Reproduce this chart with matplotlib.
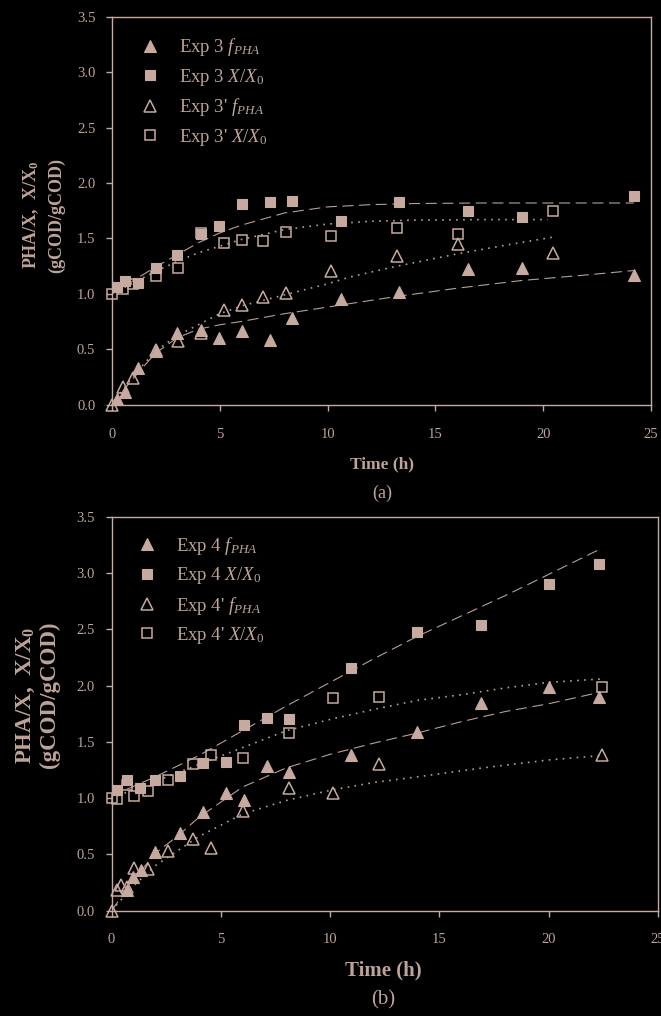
import matplotlib
matplotlib.use("Agg")
import matplotlib.pyplot as plt
from matplotlib.ticker import FormatStrFormatter

plt.rcParams["font.family"] = "Liberation Serif"
plt.rcParams["mathtext.fontset"] = "custom"
plt.rcParams["mathtext.rm"] = "Liberation Serif"
plt.rcParams["mathtext.it"] = "Liberation Serif:italic"
plt.rcParams["mathtext.bf"] = "Liberation Serif:bold"

INK = "#c6aa9f"
TXT = "#bea398"
LINE = "#b89f95"
BG = "black"

# ---------------- Panel (a): experiments 3 and 3' ----------------
t_exp3 = [0.22, 0.60, 1.19, 2.03, 3.0, 4.14, 4.98, 6.03, 7.33, 8.35, 10.6, 13.3, 16.5, 19.0, 24.2]
x_exp3 = [1.06, 1.12, 1.10, 1.23, 1.35, 1.54, 1.61, 1.81, 1.83, 1.84, 1.66, 1.83, 1.75, 1.69, 1.88]
f_exp3 = [0.05, 0.11, 0.33, 0.48, 0.65, 0.67, 0.60, 0.66, 0.58, 0.78, 0.95, 1.02, 1.22, 1.23, 1.17]

t_exp3p = [0.0, 0.50, 0.96, 2.03, 3.05, 4.14, 5.19, 6.03, 7.02, 8.07, 10.14, 13.2, 16.03, 20.44]
x_exp3p = [1.00, 1.04, 1.09, 1.16, 1.23, 1.55, 1.46, 1.49, 1.48, 1.56, 1.52, 1.59, 1.54, 1.75]
f_exp3p = [0.00, 0.16, 0.24, 0.49, 0.57, 0.645, 0.85, 0.90, 0.97, 1.01, 1.21, 1.34, 1.45, 1.37]

# model curves
fit3_x_t = [0, 1, 2, 3, 4, 5, 6, 8, 10, 12, 14, 17, 20, 24.2]
fit3_x_v = [1.00, 1.12, 1.24, 1.35, 1.46, 1.55, 1.62, 1.73, 1.785, 1.805, 1.815, 1.82, 1.82, 1.82]
fit3p_x_t = [0, 1, 2, 3, 4, 5, 6, 8, 10, 12, 14, 17, 20.2]
fit3p_x_v = [1.00, 1.10, 1.20, 1.29, 1.37, 1.43, 1.49, 1.58, 1.63, 1.655, 1.665, 1.67, 1.67]
fit3_f_t = [0, 0.5, 1, 2, 3, 4, 5, 6, 8, 10, 13, 16, 19, 22, 24.2]
fit3_f_v = [0.00, 0.12, 0.24, 0.46, 0.60, 0.68, 0.72, 0.75, 0.82, 0.88, 0.97, 1.05, 1.12, 1.17, 1.21]
fit3p_f_t = [0, 1, 2, 3, 4, 5, 6, 8, 10, 11, 13, 16, 18, 20.4]
fit3p_f_v = [0.00, 0.26, 0.48, 0.62, 0.72, 0.82, 0.89, 0.99, 1.09, 1.15, 1.24, 1.36, 1.43, 1.51]

# ---------------- Panel (b): experiments 4 and 4' ----------------
t_exp4_x = [0.24, 0.70, 1.30, 1.99, 3.13, 4.20, 5.24, 6.06, 7.11, 8.13, 10.95, 13.99, 16.9, 20.01, 22.3]
x_exp4 = [1.07, 1.16, 1.09, 1.16, 1.20, 1.31, 1.32, 1.65, 1.71, 1.70, 2.16, 2.48, 2.54, 2.90, 3.08]
t_exp4_f = [0.70, 1.00, 1.33, 1.99, 3.13, 4.20, 5.24, 6.06, 7.11, 8.13, 10.95, 13.99, 16.9, 20.01, 22.3]
f_exp4 = [0.18, 0.30, 0.36, 0.52, 0.69, 0.88, 1.05, 0.985, 1.29, 1.23, 1.38, 1.59, 1.85, 1.99, 1.90]

t_exp4p_x = [0.0, 0.27, 0.70, 1.03, 1.68, 2.60, 3.74, 4.54, 6.03, 8.13, 10.12, 12.25, 22.44]
x_exp4p = [1.00, 0.99, 1.12, 1.02, 1.06, 1.16, 1.30, 1.38, 1.36, 1.58, 1.89, 1.90, 1.99]
t_exp4p_f = [0.0, 0.27, 0.42, 0.70, 1.03, 1.68, 2.60, 3.74, 4.54, 6.03, 8.13, 10.12, 12.25, 22.44]
f_exp4p = [0.00, 0.18, 0.23, 0.21, 0.38, 0.37, 0.53, 0.64, 0.555, 0.89, 1.09, 1.05, 1.30, 1.385]

fit4_x_t = [0, 2, 4, 6, 8, 10, 12, 14, 16, 18, 20, 22.3]
fit4_x_v = [1.02, 1.19, 1.38, 1.60, 1.82, 2.03, 2.24, 2.44, 2.62, 2.80, 2.99, 3.21]
fit4p_x_t = [0, 2, 4, 6, 8, 10, 12, 14, 16, 18, 20, 22.4]
fit4p_x_v = [1.00, 1.15, 1.30, 1.45, 1.60, 1.70, 1.79, 1.87, 1.92, 1.98, 2.03, 2.06]
fit4_f_t = [0, 1, 2, 3, 4, 6, 8, 10, 12, 14, 16, 18, 20, 22.3]
fit4_f_v = [0.00, 0.27, 0.51, 0.66, 0.83, 1.10, 1.27, 1.39, 1.49, 1.58, 1.68, 1.77, 1.84, 1.94]
fit4p_f_t = [0, 1, 2, 4, 6, 8, 10, 12, 14, 17, 20, 22.44]
fit4p_f_v = [0.00, 0.22, 0.40, 0.66, 0.86, 0.98, 1.07, 1.14, 1.19, 1.27, 1.34, 1.38]

x_ticks = [0, 5, 10, 15, 20, 25]
y_ticks = [0.0, 0.5, 1.0, 1.5, 2.0, 2.5, 3.0, 3.5]

W, H = 661, 1016
fig = plt.figure(figsize=(W / 100, H / 100), dpi=100, facecolor=BG)


def px_axes(left, top, right, bottom):
    return fig.add_axes([left / W, 1 - bottom / H, (right - left) / W, (bottom - top) / H])


def style_axes(ax, tick_size, xpad):
    ax.set_facecolor(BG)
    ax.set_xlim(0, 25)
    ax.set_ylim(0, 3.5)
    ax.set_xticks(x_ticks)
    ax.set_yticks(y_ticks)
    ax.yaxis.set_major_formatter(FormatStrFormatter("%.1f"))
    for s in ax.spines.values():
        s.set_color(INK)
        s.set_linewidth(1.0)
    ax.tick_params(axis="x", direction="out", length=4, width=1.0, color=INK,
                   labelcolor=TXT, labelsize=tick_size, pad=xpad)
    ax.tick_params(axis="y", direction="out", length=4, width=1.0, color=INK,
                   labelcolor=TXT, labelsize=tick_size, pad=8)


def draw_panel(ax, filled_f, filled_x, open_f, open_x, fits, labels, leg_anchor, leg_size):
    # fitted curves: dashed for the first run, dotted for the repeated run
    dash = dict(color=LINE, lw=0.8, ls=(0, (10, 5)), zorder=2)
    dot = dict(color=LINE, lw=1.2, ls=(0, (1, 3.2)), zorder=2)
    ax.plot(*fits[0], **dash)
    ax.plot(*fits[1], **dash)
    ax.plot(*fits[2], **dot)
    ax.plot(*fits[3], **dot)

    h1, = ax.plot(*filled_f, ls="none", marker="^", ms=8, mfc=INK, mec=INK, mew=0.8,
                  clip_on=False, zorder=3, label=labels[0])
    h2, = ax.plot(*filled_x, ls="none", marker="s", ms=7, mfc=INK, mec=INK, mew=0.8,
                  clip_on=False, zorder=3, label=labels[1])
    h3, = ax.plot(*open_f, ls="none", marker="^", ms=8, mfc="none", mec=INK, mew=1.1,
                  clip_on=False, zorder=4, label=labels[2])
    h4, = ax.plot(*open_x, ls="none", marker="s", ms=7, mfc="none", mec=INK, mew=1.1,
                  clip_on=False, zorder=4, label=labels[3])
    leg = ax.legend(handles=[h1, h2, h3, h4], loc="upper left", bbox_to_anchor=leg_anchor,
                    frameon=False, fontsize=leg_size, handlelength=1.0, handletextpad=1.05,
                    labelspacing=0.45, borderpad=0, borderaxespad=0, numpoints=1)
    for txt in leg.get_texts():
        txt.set_color(TXT)


# ---- panel (a)
ax_a = px_axes(112, 17, 651, 404.5)
style_axes(ax_a, 10.5, 13)
draw_panel(
    ax_a,
    (t_exp3, f_exp3), (t_exp3, x_exp3), (t_exp3p, f_exp3p), (t_exp3p, x_exp3p),
    [(fit3_x_t, fit3_x_v), (fit3_f_t, fit3_f_v), (fit3p_x_t, fit3p_x_v), (fit3p_f_t, fit3p_f_v)],
    [r"Exp 3 $f_{PHA}$", r"Exp 3 $X/X_{\mathit{0}}$",
     r"Exp 3' $f_{PHA}$", r"Exp 3' $X/X_{\mathit{0}}$"],
    (0.053, 0.95), 13.5,
)

# ---- panel (b)
ax_b = px_axes(111.5, 517, 658, 910.7)
style_axes(ax_b, 10.5, 12)
draw_panel(
    ax_b,
    (t_exp4_f, f_exp4), (t_exp4_x, x_exp4), (t_exp4p_f, f_exp4p), (t_exp4p_x, x_exp4p),
    [(fit4_x_t, fit4_x_v), (fit4_f_t, fit4_f_v), (fit4p_x_t, fit4p_x_v), (fit4p_f_t, fit4p_f_v)],
    [r"Exp 4 $f_{PHA}$", r"Exp 4 $X/X_{\mathit{0}}$",
     r"Exp 4' $f_{PHA}$", r"Exp 4' $X/X_{\mathit{0}}$"],
    (0.048, 0.955), 13.5,
)


def ftext(x, y, s, **kw):
    fig.text(x / W, 1 - y / H, s, color=TXT, ha="center", va="center", **kw)


# axis titles and panel tags
ftext(31, 215, r"PHA/X,  X/X$_{\mathbf{0}}$", rotation=90, fontsize=13, fontweight="bold")
ftext(57, 215, "(gCOD/gCOD)", rotation=90, fontsize=13, fontweight="bold")
ftext(382, 464, "Time (h)", fontsize=12.5, fontweight="bold")
ftext(382, 493, "(a)", fontsize=13)

ftext(26, 695, r"PHA/X,  X/X$_{\mathbf{0}}$", rotation=90, fontsize=16.5, fontweight="bold")
ftext(49, 695, "(gCOD/gCOD)", rotation=90, fontsize=16.5, fontweight="bold")
ftext(383, 970, "Time (h)", fontsize=15, fontweight="bold")
ftext(383, 1000, "(b)", fontsize=15)

fig.savefig("out.png", dpi=100, facecolor=BG)
